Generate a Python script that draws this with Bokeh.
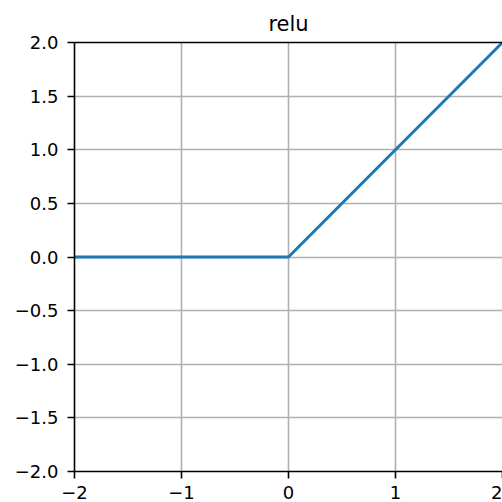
from bokeh.plotting import figure
from bokeh.models import Range1d, FixedTicker, LinearAxis
from bokeh.embed import file_html
from bokeh.resources import INLINE

# ReLU sampled at its breakpoints
x_vals = [-2.0, 0.0, 2.0]
y_vals = [0.0, 0.0, 2.0]

x_ticks = [-2, -1, 0, 1, 2]
x_tick_labels = ["\u22122", "\u22121", "0", "1", "2"]
y_ticks = [-2.0, -1.5, -1.0, -0.5, 0.0, 0.5, 1.0, 1.5, 2.0]
y_tick_labels = ["\u22122.0", "\u22121.5", "\u22121.0", "\u22120.5", "0.0", "0.5", "1.0", "1.5", "2.0"]

FONT = "DejaVu Sans"

p = figure(
    width=502, height=502,
    x_range=Range1d(-2, 2), y_range=Range1d(-2, 2),
    output_backend="svg", toolbar_location=None,
    min_border_left=74, min_border_right=0,
    min_border_top=42, min_border_bottom=31,
    title="relu",
)
p.background_fill_color = "white"
p.border_fill_color = "white"
# spines on left, bottom and top only
p.outline_line_color = None

p.title.align = "center"
p.title.text_font = FONT
p.title.text_font_size = "21px"
p.title.text_font_style = "normal"
p.title.text_color = "black"
p.title.standoff = 13

for ax, ticks, labels in ((p.xaxis, x_ticks, x_tick_labels), (p.yaxis, y_ticks, y_tick_labels)):
    ax.ticker = FixedTicker(ticks=ticks)
    ax.major_label_overrides = {t: l for t, l in zip(ticks, labels)}
    ax.major_label_text_font = FONT
    ax.major_label_text_font_size = "18px"
    ax.major_label_text_color = "black"
    ax.major_tick_out = 7
    ax.major_tick_in = 0
    ax.major_tick_line_width = 1.6
    ax.major_tick_line_color = "black"
    ax.minor_tick_line_color = None
    ax.axis_line_color = "black"
    ax.axis_line_width = 1.6

p.xaxis.major_label_standoff = 7
p.yaxis.major_label_standoff = 9

# top spine: a bare axis line with no ticks or labels
top = LinearAxis(
    ticker=FixedTicker(ticks=[]),
    major_tick_line_color=None, minor_tick_line_color=None,
    major_label_text_font_size="0px", major_label_standoff=0,
    major_tick_out=0, major_tick_in=0,
    axis_line_color="black", axis_line_width=1.6,
)
p.add_layout(top, "above")

p.grid.grid_line_color = "#b0b0b0"
p.grid.grid_line_width = 1.6

p.line(x_vals, y_vals, line_color="#1f77b4", line_width=3)

open("out.html", "w").write(file_html(p, INLINE))
